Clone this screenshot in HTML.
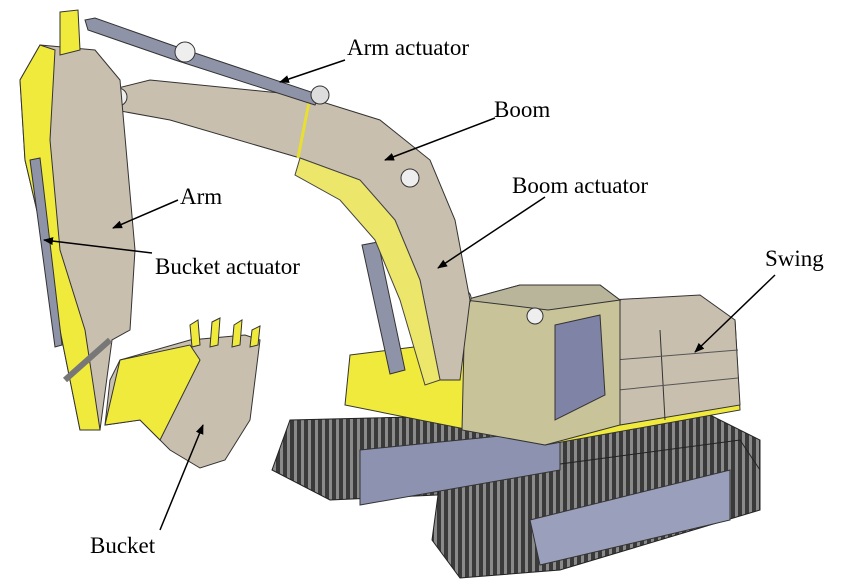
<!DOCTYPE html>
<html><head><meta charset="utf-8"><style>
html,body{margin:0;padding:0;background:#fff;}
svg{display:block}
text{font-family:"Liberation Serif",serif;font-size:23px;fill:#000}
</style></head><body>
<svg width="850" height="584" viewBox="0 0 850 584" xmlns="http://www.w3.org/2000/svg">
<defs>
<pattern id="tr" width="7" height="7" patternUnits="userSpaceOnUse">
<rect width="7" height="7" fill="#3a3a3a"/><rect width="3" height="7" fill="#8a8a8a"/>
</pattern>
<marker id="ah" markerWidth="10" markerHeight="8" refX="9" refY="4" orient="auto" markerUnits="userSpaceOnUse">
<path d="M0,0 L10,4 L0,8 z" fill="#000"/></marker>
</defs>
<!-- back track -->
<path d="M290,420 L700,410 L760,440 L760,480 L330,500 L272,470 Z" fill="url(#tr)" stroke="#222"/>
<!-- front track -->
<path d="M440,480 L740,440 L760,470 L760,510 L560,570 L460,578 L432,540 Z" fill="url(#tr)" stroke="#222"/>
<!-- undercarriage frames -->
<path d="M360,450 L560,430 L560,470 L360,505 Z" fill="#8c92b0" stroke="#333"/>
<path d="M530,520 L730,470 L730,520 L540,565 Z" fill="#9aa0bc" stroke="#333"/>
<!-- upper body yellow base -->
<path d="M350,355 L470,340 L735,320 L740,410 L545,445 L345,405 Z" fill="#f0ea3c" stroke="#333"/>
<!-- engine housing -->
<path d="M610,300 L700,295 L735,320 L740,405 L620,425 Z" fill="#c9bfae" stroke="#333"/>
<line x1="660" y1="330" x2="665" y2="420" stroke="#333"/>
<line x1="615" y1="360" x2="738" y2="350" stroke="#555"/>
<line x1="618" y1="390" x2="738" y2="378" stroke="#555"/>
<!-- cab -->
<path d="M465,300 L520,285 L600,285 L620,300 L620,425 L545,445 L462,430 Z" fill="#c9c39a" stroke="#333"/>
<path d="M465,300 L520,285 L600,285 L620,300 L548,310 Z" fill="#b9b59a" stroke="#333"/>
<path d="M555,325 L600,315 L605,395 L555,420 Z" fill="#7f83a6" stroke="#333"/>
<circle cx="463" cy="298" r="8" fill="#eee" stroke="#333"/>
<circle cx="535" cy="316" r="8" fill="#eee" stroke="#333"/>
<!-- boom actuators -->
<path d="M362,245 L378,242 L405,370 L390,374 Z" fill="#8e93a8" stroke="#333"/>
<path d="M420,215 L445,245 L455,370 L440,372 L425,250 Z" fill="#8e93a8" stroke="#333"/>
<!-- boom -->
<path d="M110,90 L150,80 L300,95 L380,120 L430,160 L455,220 L470,300 L460,380 L440,380 L420,280 L395,220 L360,180 L300,158 L170,120 L115,110 Z" fill="#c9bfae" stroke="#333"/>
<path d="M300,158 L360,180 L395,220 L420,280 L440,380 L425,385 L400,300 L375,240 L340,200 L295,175 Z" fill="#ece76a" stroke="#444"/>
<line x1="310" y1="97" x2="298" y2="158" stroke="#e8e030" stroke-width="3"/>
<circle cx="410" cy="178" r="9" fill="#eee" stroke="#333"/>
<circle cx="118" cy="97" r="9" fill="#eee" stroke="#333"/>
<!-- arm actuator -->
<path d="M85,20 L95,18 L180,48 L320,95 L315,105 L175,60 L88,30 Z" fill="#8e93a8" stroke="#333"/>
<circle cx="185" cy="52" r="10" fill="#eee" stroke="#333"/>
<circle cx="320" cy="95" r="9" fill="#ddd" stroke="#333"/>
<!-- arm -->
<path d="M40,45 L95,50 L120,80 L135,250 L130,330 L112,340 L100,430 L80,430 L60,330 L45,245 L25,160 L20,80 Z" fill="#c9bfae" stroke="#333"/>
<path d="M20,80 L40,45 L55,50 L50,140 L60,250 L85,330 L100,430 L80,430 L60,330 L45,245 L25,160 Z" fill="#f0ea3c" stroke="#333"/>
<path d="M60,12 L78,10 L80,50 L60,55 Z" fill="#f0ea3c" stroke="#333"/>
<!-- bucket actuator -->
<path d="M30,160 L40,158 L62,345 L55,347 Z" fill="#8e93a8" stroke="#333"/>
<line x1="65" y1="380" x2="110" y2="340" stroke="#777" stroke-width="6"/>
<!-- bucket -->
<path d="M120,360 L190,340 L245,335 L260,340 L250,420 L225,460 L200,468 L170,450 L140,420 L105,425 L110,380 Z" fill="#c9bfae" stroke="#333"/>
<path d="M120,360 L190,345 L200,360 L160,440 L140,420 L105,425 Z" fill="#f0ea3c" stroke="#333"/>
<path d="M190,325 L198,320 L200,345 L192,347 Z" fill="#f0ea3c" stroke="#333"/>
<path d="M212,322 L220,318 L218,345 L210,347 Z" fill="#f0ea3c" stroke="#333"/>
<path d="M234,325 L242,320 L240,345 L232,347 Z" fill="#f0ea3c" stroke="#333"/>
<path d="M252,330 L260,326 L258,345 L250,347 Z" fill="#f0ea3c" stroke="#333"/>
<!-- labels -->
<text x="347" y="55">Arm actuator</text>
<text x="494" y="117">Boom</text>
<text x="512" y="193">Boom actuator</text>
<text x="180" y="204">Arm</text>
<text x="155" y="274">Bucket actuator</text>
<text x="765" y="266">Swing</text>
<text x="90" y="553">Bucket</text>
<g stroke="#000" stroke-width="1.5" marker-end="url(#ah)">
<line x1="345" y1="60" x2="280" y2="82"/>
<line x1="495" y1="118" x2="385" y2="160"/>
<line x1="545" y1="197" x2="438" y2="268"/>
<line x1="178" y1="200" x2="113" y2="228"/>
<line x1="152" y1="253" x2="44" y2="240"/>
<line x1="775" y1="275" x2="695" y2="352"/>
<line x1="160" y1="530" x2="203" y2="425"/>
</g>
</svg>
</body></html>
